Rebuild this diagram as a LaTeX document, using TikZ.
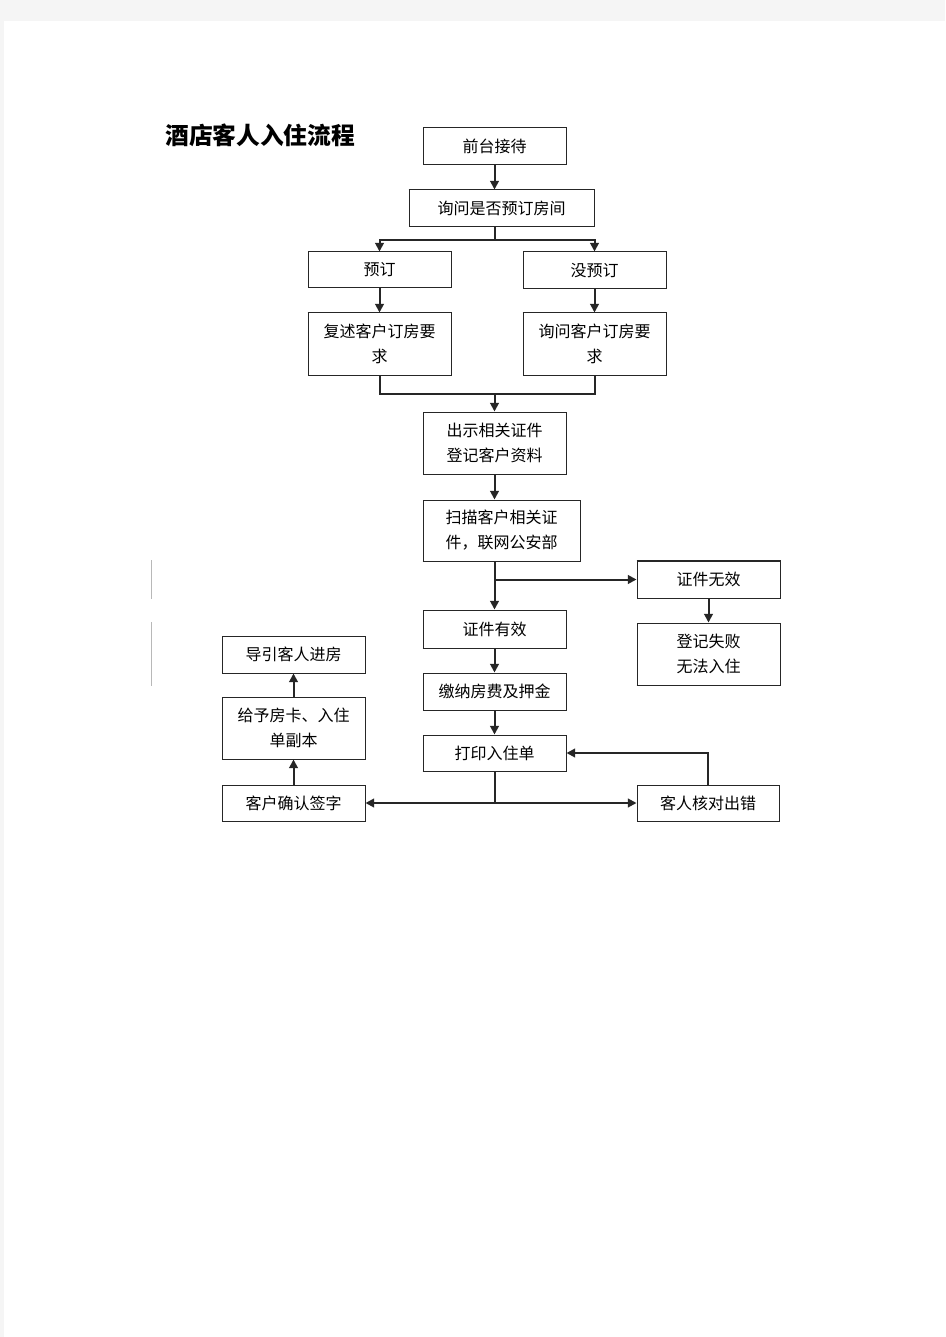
\documentclass[tikz,border=0pt]{standalone}
\usepackage{fontspec}
\newfontfamily\cjk{Noto Sans CJK SC}
\usetikzlibrary{arrows.meta}
\tikzset{
  x=0.75pt, y=-0.75pt,
  wh/.style 2 args={minimum width=#1*0.75pt, minimum height=#2*0.75pt},
  box/.style={draw=black!85, line width=0.75pt, fill=white, inner sep=0pt, align=center,
    font=\cjk\fontsize{12}{18.75}\selectfont},
  conn/.style={line width=1.5pt, draw=black!85},
  arr/.style={conn, -{Triangle[length=6.5pt,width=6.5pt]}},
  edge/.style={line width=1.3pt, draw=black!85},
}
\begin{document}
\begin{tikzpicture}
\useasboundingbox (0,0) rectangle (945,1337);
\fill[black!4] (0,0) rectangle (945,1337);
\fill[white] (4,21) rectangle (945,1337);

\node[font=\cjk\bfseries\fontsize{17.8}{20}\selectfont, anchor=west, inner sep=0pt] (title) at (165,135) {酒店客人入住流程};

\node[box, wh={143}{37}] (A) at (494.5,146.5) {前台接待};
\node[box, wh={185}{37}] (B) at (501.5,208.5) {询问是否预订房间};
\node[box, wh={143}{36}] (C) at (379.5,270) {预订};
\node[box, wh={143}{37}] (D) at (594.5,270.5) {没预订};
\node[box, wh={143}{62}] (E) at (379.5,344) {复述客户订房要\\求};
\node[box, wh={143}{62}] (F) at (594.5,344) {询问客户订房要\\求};
\node[box, wh={143}{62}] (G) at (494.5,443) {出示相关证件\\登记客户资料};
\node[box, wh={157}{61}] (H) at (501.5,530.5) {扫描客户相关证\\件，联网公安部};
\node[box, wh={143}{37}] (I) at (708.5,579.5) {证件无效};
\node[box, wh={143}{62}] (J) at (708.5,654) {登记失败\\无法入住};
\node[box, wh={143}{38}] (K) at (494.5,629) {证件有效};
\node[box, wh={143}{37}] (L) at (494.5,691.5) {缴纳房费及押金};
\node[box, wh={143}{36}] (M) at (494.5,753) {打印入住单};
\node[box, wh={142}{36}] (N) at (708,803) {客人核对出错};
\node[box, wh={143}{36}] (O) at (293.5,803) {客户确认签字};
\node[box, wh={143}{62}] (P) at (293.5,728) {给予房卡、入住\\单副本};
\node[box, wh={143}{37}] (Q) at (293.5,654.5) {导引客人进房};

% thicker edges
\draw[edge] (A.north east) -- (A.south east);
\draw[edge] (B.north west) -- (B.north east) -- (B.south east);
\draw[edge] (E.north west) -- (E.north east);
\draw[edge] (F.north west) -- (F.north east);
\draw[edge] (H.south west) -- (H.south east);
\draw[edge] (K.south west) -- (K.south east);
\draw[edge] (J.south west) -- (J.south east);
\draw[edge] (I.north west) -- (I.north east);
\draw[edge] (M.south west) -- (M.south east);

% connectors
\draw[arr] (A.south) -- (A.south |- B.north);
\coordinate (s1) at (494.5,240);
\draw[conn] (A.south |- B.south) -- (s1);
\draw[arr] (s1) -| (C.north);
\draw[arr] (s1) -| (D.north);
\draw[arr] (C.south) -- (E.north);
\draw[arr] (D.south) -- (F.north);
\coordinate (m) at (494.5,394);
\draw[conn] (E.south) |- (m) -| (F.south);
\draw[arr] (m) -- (G.north);
\draw[arr] (G.south) -- (G.south |- H.north);
\draw[arr] (G.south |- H.south) -- (K.north);
\draw[arr] (K.north |- I.west) -- (I.west);
\draw[arr] (I.south) -- (J.north);
\draw[arr] (K.south) -- (L.north);
\draw[arr] (L.south) -- (M.north);
\coordinate (b) at (M.south |- O.east);
\draw[conn] (M.south) -- (b);
\draw[arr] (b) -- (O.east);
\draw[arr] (b) -- (N.west);
\draw[arr] (N.north) |- (M.east);
\draw[arr] (O.north) -- (P.south);
\draw[arr] (P.north) -- (Q.south);

% faint margin marks
\draw[black!28, line width=0.8pt] (151.5,560) -- (151.5,599);
\draw[black!28, line width=0.8pt] (151.5,622) -- (151.5,686);
\end{tikzpicture}
\end{document}
